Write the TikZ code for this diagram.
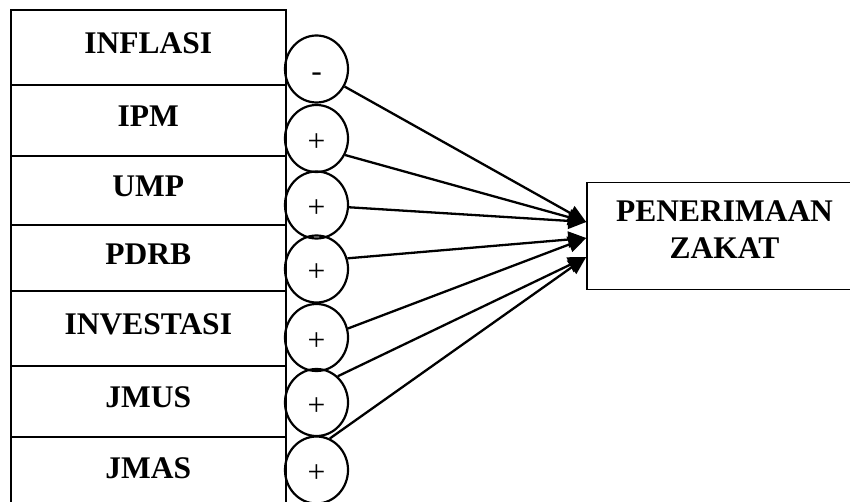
\documentclass[tikz,border=0pt]{standalone}
\usepackage{fontspec}
\setmainfont{Liberation Serif}
\usetikzlibrary{arrows.meta,shapes.geometric}

\tikzset{
    varbox/.style={draw, line width=1.6pt, minimum width=275pt, inner sep=0pt,
        anchor=north west, text height=20.8pt, text depth=8pt,
        font=\fontsize{31.5}{37}\selectfont\bfseries},
    signbubble/.style={draw, ellipse, line width=2.2pt, minimum width=63pt,
        minimum height=67pt, inner sep=0pt, text height=25.8pt, text depth=0pt,
        font=\fontsize{31.5}{37}\selectfont},
    outbox/.style={draw, line width=1.6pt, minimum width=265pt, minimum height=107pt},
    outtext/.style={align=center, inner sep=0pt,
        font=\fontsize{31.5}{37}\selectfont\bfseries},
    conn/.style={line width=2.3pt, -{Triangle[length=18pt,width=16pt]}}
}

\begin{document}
\begin{tikzpicture}[x=1pt, y=-1pt]
    \useasboundingbox (0,0) rectangle (850,502);

    % 1. Kotak variabel bebas
    \foreach \nm/\lbl/\t/\h in {infl/INFLASI/9/75, ipm/IPM/84/71, ump/UMP/155/69,
        pdrb/PDRB/224/66, inv/INVESTASI/290/75, jmus/JMUS/365/71, jmas/JMAS/436/70}
        \node[varbox, minimum height=\h] (\nm) at (10,\t) {\lbl};

    % 2. Lingkaran tanda pengaruh
    \foreach \i/\cy/\s in {1/69/-, 2/138.5/+, 3/205/+, 4/269/+,
        5/337.5/+, 6/402.5/+, 7/470/+}
        \node[signbubble] (c\i) at (316.5,\cy) {\s};

    % 3. Kotak variabel terikat
    \node[outbox] (zakat) at (719.5,236) {};
    \node[outtext] (zakattext) at (724.5,230) {PENERIMAAN\\ZAKAT};

    % 4. Titik ujung panah
    \coordinate (t1) at ([yshift=14pt]zakat.west);
    \coordinate (t2) at ([yshift=-2pt]zakat.west);
    \coordinate (t3) at ([yshift=-21pt]zakat.west);

    % 5. Panah
    \draw[conn] (c1.-32) -- (t1);
    \draw[conn] (c2.-30) -- (t1);
    \draw[conn] (c3.-4) -- (t1);
    \draw[conn] (c4.19) -- (t2);
    \draw[conn] (c5.16) -- (t2);
    \draw[conn] (c6.51) -- (t3);
    \draw[conn] (c7.67) -- (t3);
\end{tikzpicture}
\end{document}
